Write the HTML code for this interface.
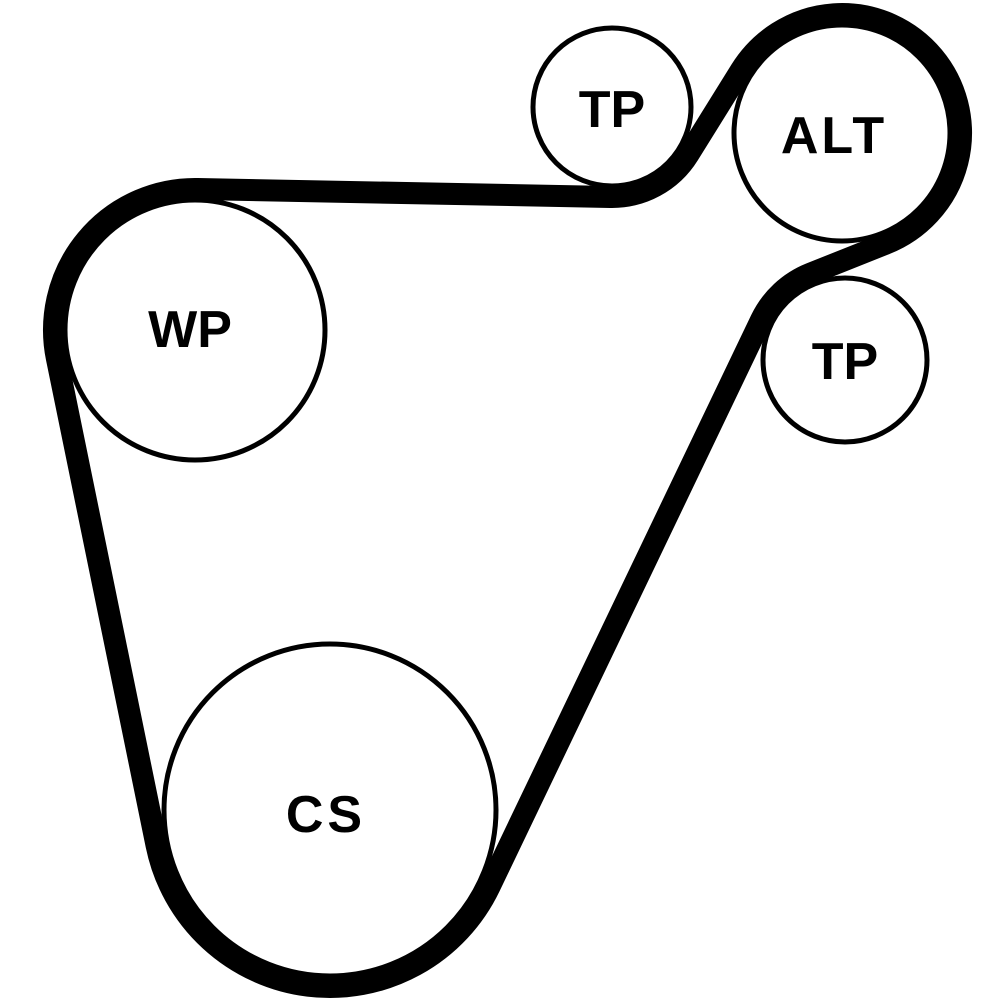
<!DOCTYPE html>
<html><head><meta charset="utf-8"><style>
html,body{margin:0;padding:0;background:#fff;width:1000px;height:1000px;overflow:hidden}
text{font-family:"Liberation Sans",Arial,sans-serif;font-weight:bold;font-size:52px;fill:#000;text-anchor:middle;dominant-baseline:central}
</style></head><body>
<svg id="s" width="1000" height="1000" viewBox="0 0 1000 1000" xmlns="http://www.w3.org/2000/svg">
<g fill="none" stroke="#000" stroke-width="5">
<circle cx="612" cy="107" r="79"/>
<circle cx="842" cy="133" r="108"/>
<circle cx="845" cy="360" r="82"/>
<circle cx="195" cy="330" r="130"/>
<circle cx="330" cy="810" r="166"/>
</g>
<path id="belt" fill="none" stroke="#000" stroke-width="22" stroke-linejoin="round"/>
<text x="612" y="110">TP</text>
<text x="834" y="136" letter-spacing="3">ALT</text>
<text x="190" y="330">WP</text>
<text x="845" y="362">TP</text>
<text x="326" y="815" letter-spacing="4">CS</text>
</svg>
<script>
var P=[[195,330,141],[612,107,-90],[842,133,119],[845,360,-93],[330,810,177]];
function tan(a,b){var Dx=b[0]-a[0],Dy=b[1]-a[1],L=Math.hypot(Dx,Dy),ph=Math.atan2(Dy,Dx);
var ac=Math.acos((a[2]-b[2])/L),best=null;
[ph+ac,ph-ac].forEach(function(t){var nx=Math.cos(t),ny=Math.sin(t);var dd=-ny*Dx+nx*Dy;
if(dd>0)best=[nx,ny];});
var n=best;return [[a[0]+a[2]*n[0],a[1]+a[2]*n[1]],[b[0]+b[2]*n[0],b[1]+b[2]*n[1]]];}
var T=[],N=P.length;for(var i=0;i<N;i++)T.push(tan(P[i],P[(i+1)%N]));
var d="";
for(var i=0;i<N;i++){var c=P[(i+1)%N],pin=T[i][1],pout=T[(i+1)%N][0];
if(i==0)d+="M"+T[0][0][0]+","+T[0][0][1];
d+=" L"+pin[0]+","+pin[1];
var r=Math.abs(c[2]),sw=c[2]>0?1:0;
var ai=Math.atan2(pin[1]-c[1],pin[0]-c[0]),ao=Math.atan2(pout[1]-c[1],pout[0]-c[0]);
var del=sw?ao-ai:ai-ao;del=((del%(2*Math.PI))+2*Math.PI)%(2*Math.PI);
d+=" A"+r+","+r+" 0 "+(del>Math.PI?1:0)+" "+sw+" "+pout[0]+","+pout[1];}
d+=" Z";
document.getElementById("belt").setAttribute("d",d);
</script>
</body></html>
